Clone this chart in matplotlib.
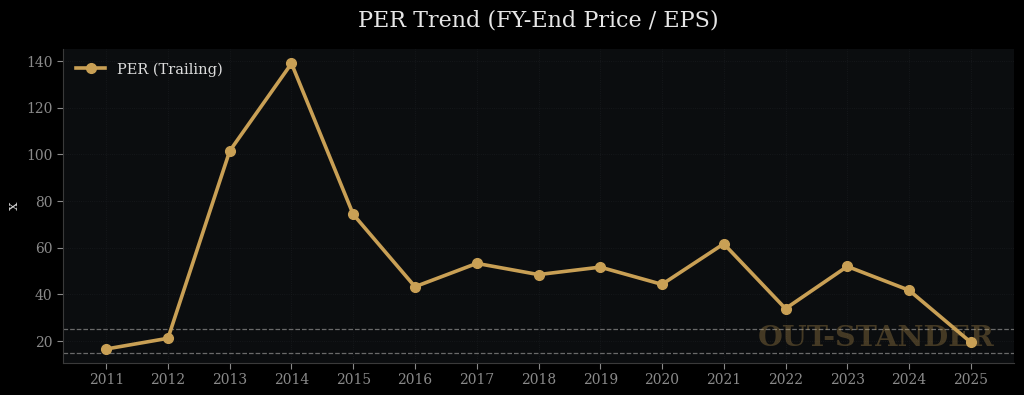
import matplotlib
matplotlib.use("Agg")
import matplotlib.pyplot as plt

years = [2011, 2012, 2013, 2014, 2015, 2016, 2017, 2018, 2019, 2020, 2021, 2022, 2023, 2024, 2025]
per = [16.6, 21.2, 101.5, 139.0, 74.3, 43.3, 53.3, 48.5, 51.7, 44.3, 61.7, 33.9, 52.0, 41.8, 19.5]
ref_lines = [15, 25]

plt.rcParams['font.family'] = ['DejaVu Serif']
fig = plt.figure(figsize=(10.24, 3.95), dpi=100, facecolor='black')
ax = fig.add_axes([63/1024, 1-363/395, 951/1024, 314/395])
ax.set_facecolor('#0b0d0f')

ax.plot(years, per, color='#c9a055', lw=2.6, marker='o', ms=7, label='PER (Trailing)', zorder=5)
for r in ref_lines:
    ax.axhline(r, color='#6a6a6a', lw=0.9, ls='--', zorder=2)

ax.set_xticks(years)
ax.set_xticklabels([str(y) for y in years])
ax.set_ylim(10.6, 145.2)
ax.set_yticks([20, 40, 60, 80, 100, 120, 140])
ax.grid(True, color='#181b1e', lw=0.6, ls=':')
ax.set_axisbelow(True)
ax.tick_params(colors='#8a8a8a', labelsize=10, length=4)
for s in ax.spines.values():
    s.set_color('#3a3a3a')
ax.spines['top'].set_visible(False)
ax.spines['right'].set_visible(False)
ax.set_ylabel('x', color='#cfcfcf', fontsize=11)

ax.text(0.98, 0.035, 'OUT-STANDER', transform=ax.transAxes, ha='right', va='bottom',
        fontsize=20.5, fontweight='bold', color='#c9a055', alpha=0.3, zorder=4)

leg = ax.legend(loc='upper left', frameon=False, fontsize=10.5)
for t in leg.get_texts():
    t.set_color('#dcdcdc')

ax.set_title('PER Trend (FY-End Price / EPS)', color='#e6e6e6', fontsize=16, pad=16)
fig.savefig('out.png', dpi=100, facecolor='black')
